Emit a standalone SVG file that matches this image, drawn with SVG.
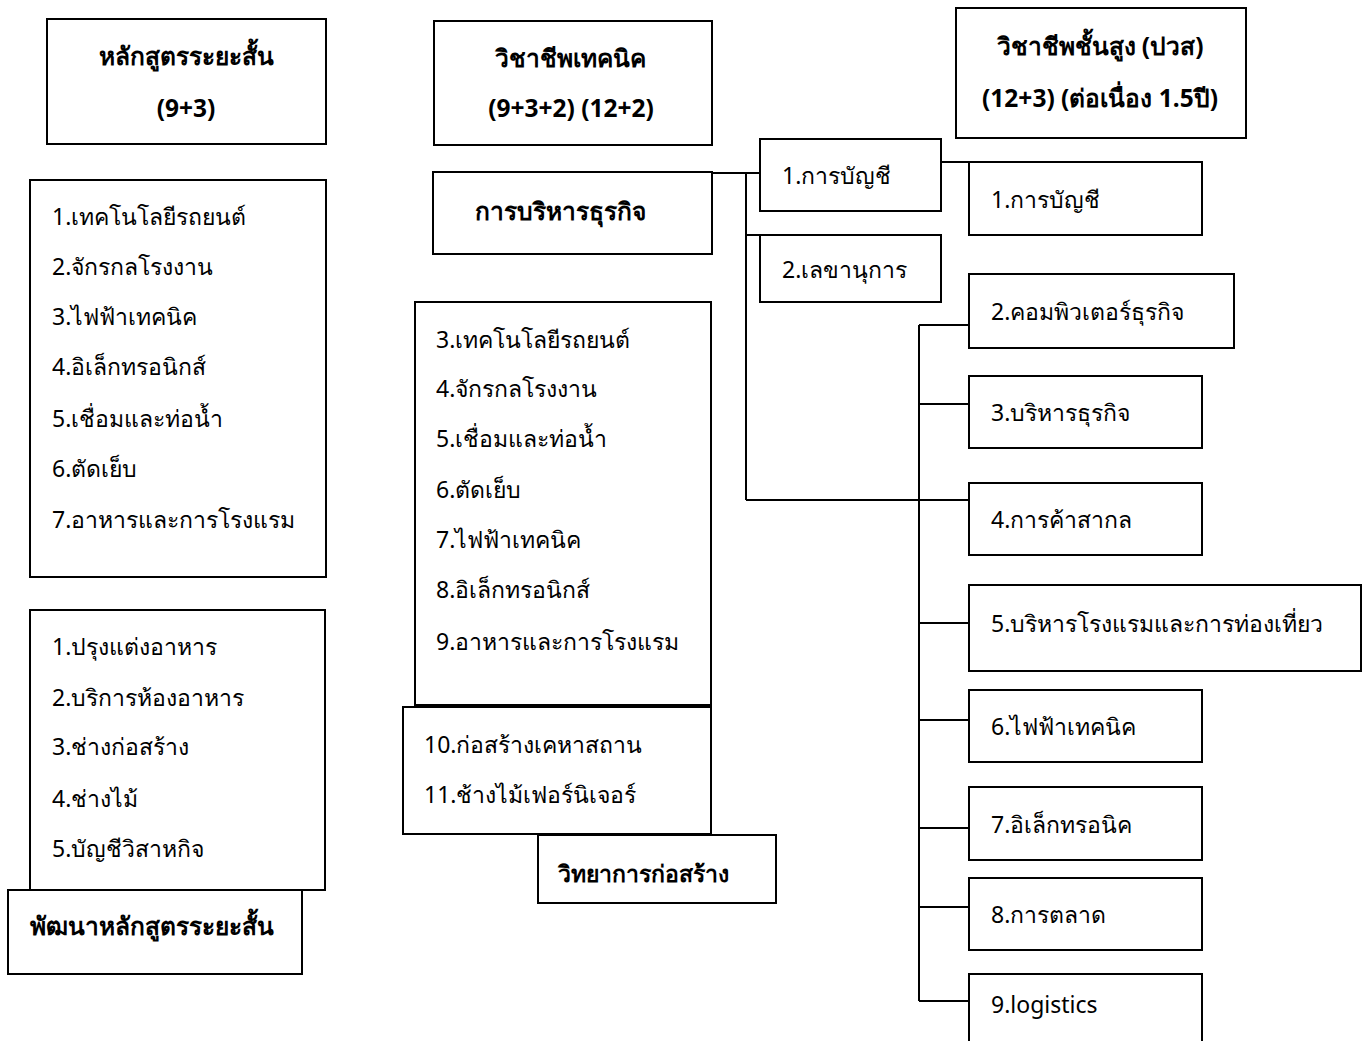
<svg xmlns="http://www.w3.org/2000/svg" width="1367" height="1041" viewBox="0 0 1367 1041">
<style>
rect.box{fill:#fff;stroke:#000;stroke-width:2}
.conn line{stroke:#000;stroke-width:2}
text{font-family:"Noto Sans","DejaVu Sans",sans-serif;font-size:23px;fill:#000}
text.h{font-weight:bold;font-size:24.5px}
text.s{font-size:23px}
text.c{text-anchor:middle}
</style>
<rect width="1367" height="1041" fill="#fff"/>
<g class="conn" id="connectors">
<line x1="712" y1="173" x2="760" y2="173"/>
<line x1="746" y1="173" x2="746" y2="500"/>
<line x1="746" y1="235" x2="760" y2="235"/>
<line x1="746" y1="500" x2="969" y2="500"/>
<line x1="941" y1="162" x2="969" y2="162"/>
<line x1="919" y1="325" x2="919" y2="1001"/>
<line x1="919" y1="325" x2="969" y2="325"/>
<line x1="919" y1="404" x2="969" y2="404"/>
<line x1="919" y1="623" x2="969" y2="623"/>
<line x1="919" y1="720" x2="969" y2="720"/>
<line x1="919" y1="828" x2="969" y2="828"/>
<line x1="919" y1="907" x2="969" y2="907"/>
<line x1="919" y1="1001" x2="969" y2="1001"/>
</g>
<g id="n-short">
<rect class="box" x="47" y="19" width="279" height="125"/>
<text class="h c" x="186" y="65">หลักสูตรระยะสั้น</text>
<text class="h c" x="186" y="117">(9+3)</text>
</g>
<g id="n-short-list1">
<rect class="box" x="30" y="180" width="296" height="397"/>
<text x="52" y="225">1.เทคโนโลยีรถยนต์</text>
<text x="52" y="275">2.จักรกลโรงงาน</text>
<text x="52" y="325">3.ไฟฟ้าเทคนิค</text>
<text x="52" y="375">4.อิเล็กทรอนิกส์</text>
<text x="52" y="427">5.เชื่อมและท่อน้ำ</text>
<text x="52" y="477">6.ตัดเย็บ</text>
<text x="52" y="528">7.อาหารและการโรงแรม</text>
</g>
<g id="n-short-list2">
<rect class="box" x="30" y="610" width="295" height="280"/>
<text x="52" y="655">1.ปรุงแต่งอาหาร</text>
<text x="52" y="706">2.บริการห้องอาหาร</text>
<text x="52" y="755">3.ช่างก่อสร้าง</text>
<text x="52" y="807">4.ช่างไม้</text>
<text x="52" y="857">5.บัญชีวิสาหกิจ</text>
</g>
<g id="n-short-dev">
<rect class="box" x="8" y="890" width="294" height="84"/>
<text class="h" x="30" y="935">พัฒนาหลักสูตรระยะสั้น</text>
</g>
<g id="n-tech">
<rect class="box" x="434" y="21" width="278" height="124"/>
<text class="h c" x="570" y="67">วิชาชีพเทคนิค</text>
<text class="h c" x="571" y="117">(9+3+2) (12+2)</text>
</g>
<g id="n-business">
<rect class="box" x="433" y="172" width="279" height="82"/>
<text class="h c" x="560" y="220">การบริหารธุรกิจ</text>
</g>
<g id="n-tech-list">
<rect class="box" x="415" y="302" width="296" height="403"/>
<text x="436" y="348">3.เทคโนโลยีรถยนต์</text>
<text x="436" y="397">4.จักรกลโรงงาน</text>
<text x="436" y="447">5.เชื่อมและท่อน้ำ</text>
<text x="436" y="498">6.ตัดเย็บ</text>
<text x="436" y="548">7.ไฟฟ้าเทคนิค</text>
<text x="436" y="598">8.อิเล็กทรอนิกส์</text>
<text x="436" y="650">9.อาหารและการโรงแรม</text>
</g>
<g id="n-construct-list">
<rect class="box" x="403" y="707" width="308" height="127"/>
<text x="424" y="753">10.ก่อสร้างเคหาสถาน</text>
<text x="424" y="803">11.ช้างไม้เฟอร์นิเจอร์</text>
</g>
<g id="n-construct">
<rect class="box" x="538" y="835" width="238" height="68"/>
<text class="h s" x="558" y="882">วิทยาการก่อสร้าง</text>
</g>
<g id="n-acc1">
<rect class="box" x="760" y="139" width="181" height="72"/>
<text x="782" y="184">1.การบัญชี</text>
</g>
<g id="n-sec">
<rect class="box" x="760" y="235" width="181" height="67"/>
<text x="782" y="278">2.เลขานุการ</text>
</g>
<g id="n-high">
<rect class="box" x="956" y="8" width="290" height="130"/>
<text class="h c" x="1100" y="55">วิชาชีพชั้นสูง (ปวส)</text>
<text class="h c" x="1100" y="107">(12+3) (ต่อเนื่อง 1.5ปี)</text>
</g>
<g id="n-h1">
<rect class="box" x="969" y="162" width="233" height="73"/>
<text x="991" y="208">1.การบัญชี</text>
</g>
<g id="n-h2">
<rect class="box" x="969" y="274" width="265" height="74"/>
<text x="991" y="320">2.คอมพิวเตอร์ธุรกิจ</text>
</g>
<g id="n-h3">
<rect class="box" x="969" y="376" width="233" height="72"/>
<text x="991" y="421">3.บริหารธุรกิจ</text>
</g>
<g id="n-h4">
<rect class="box" x="969" y="483" width="233" height="72"/>
<text x="991" y="528">4.การค้าสากล</text>
</g>
<g id="n-h5">
<rect class="box" x="969" y="585" width="392" height="86"/>
<text x="991" y="632">5.บริหารโรงแรมและการท่องเที่ยว</text>
</g>
<g id="n-h6">
<rect class="box" x="969" y="690" width="233" height="72"/>
<text x="991" y="735">6.ไฟฟ้าเทคนิค</text>
</g>
<g id="n-h7">
<rect class="box" x="969" y="787" width="233" height="73"/>
<text x="991" y="833">7.อิเล็กทรอนิค</text>
</g>
<g id="n-h8">
<rect class="box" x="969" y="878" width="233" height="72"/>
<text x="991" y="923">8.การตลาด</text>
</g>
<g id="n-h9">
<rect class="box" x="969" y="974" width="233" height="80"/>
<text x="991" y="1013">9.logistics</text>
</g>
</svg>
